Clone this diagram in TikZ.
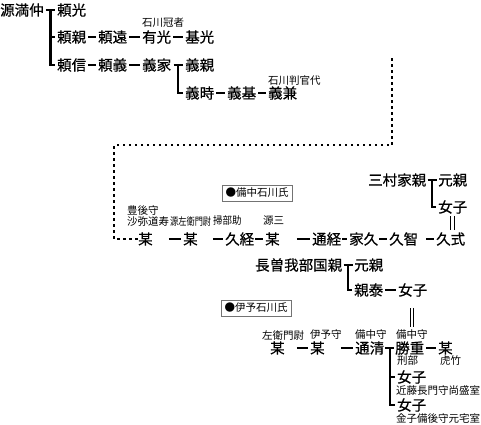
\documentclass[tikz,border=0pt]{standalone}
\usepackage{fontspec}
\newfontfamily\jp{Noto Sans CJK JP}
\newfontfamily\jpb[FakeBold=0.6]{Noto Sans CJK JP}
\usetikzlibrary{calc}

\begin{document}
\begin{tikzpicture}[x=1pt, y=-1pt,
	person/.style={inner sep=0pt, anchor=west, font=\jpb\fontsize{14.5}{14.5}\selectfont},
	note/.style={inner sep=0pt, anchor=west, align=left, font=\jp\fontsize{10.5}{10.5}\selectfont},
	clan/.style={draw=black!55, line width=0.6pt, inner sep=0pt, minimum width=70pt, minimum height=16pt, font=\jp\fontsize{10.5}{10.5}\selectfont},
	bar/.style={line width=2.4pt, shorten <=2pt, shorten >=2pt},
	tee/.style={line width=2.2pt},
	wed/.style={double, double distance=2.6pt, line width=0.7pt, shorten <=3pt, shorten >=3pt},
	dots/.style={line width=2.5pt, dash pattern=on 2.5pt off 3.5pt}]
	\useasboundingbox (0,0) rectangle (481,424);
	% Minamoto line:
	\node[person] (mitsunaka) at (0, 10){源満仲};
	\node[person] (yorimitsu) at (57, 10){頼光};
	\node[person] (yorichika) at (57, 37){頼親};
	\node[person] (yoritoo) at (98, 37){頼遠};
	\node[person] (arimitsu) at (142, 37){有光};
	\node[person] (motomitsu) at (185, 37){基光};
	\node[note] (kanja) at (142, 23){石川冠者};
	\node[person] (yorinobu) at (57, 65){頼信};
	\node[person] (yoriyoshi) at (98, 65){頼義};
	\node[person] (yoshiie) at (142, 65){義家};
	\node[person] (yoshichika) at (185, 65){義親};
	\node[person] (yoshitoki) at (185, 93){義時};
	\node[person] (yoshimoto) at (227, 93){義基};
	\node[person] (yoshikane) at (268, 93){義兼};
	\node[note] (hougandai) at (268, 81){石川判官代};
	% Bitchu Ishikawa:
	\node[clan] (bitchu) at (257, 193){●備中石川氏};
	\node[person] (bo1) at (138, 239){某};
	\node[person] (bo2) at (183, 239){某};
	\node[person] (hisatsune) at (225, 239){久経};
	\node[person] (bo3) at (265, 239){某};
	\node[person] (michitsune) at (312, 239){通経};
	\node[person] (iehisa) at (349, 239){家久};
	\node[person] (hisatomo) at (389, 239){久智};
	\node[person] (hisanori) at (436, 239){久式};
	\node[note] (bungo) at (127, 216){豊後守\\沙弥道寿};
	\node[note] (sahei) at (170, 221){\scalebox{0.78}[1]{源左衛門尉}};
	\node[note] (kamon) at (213, 221){\scalebox{0.9}[1]{掃部助}};
	\node[note] (genzo) at (263, 221){源三};
	\node[person] (mimura) at (368, 180){三村家親};
	\node[person] (motochikaA) at (438, 180){元親};
	\node[person] (nyoshiA) at (438, 207){女子};
	% Chosokabe and Iyo Ishikawa:
	\node[person] (kunichika) at (255, 265){長曽我部国親};
	\node[person] (motochikaB) at (354, 265){元親};
	\node[person] (chikayasu) at (354, 290){親泰};
	\node[person] (nyoshiB) at (398, 290){女子};
	\node[clan] (iyo) at (256, 308){●伊予石川氏};
	\node[person] (bo4) at (270, 348){某};
	\node[person] (bo5) at (310, 348){某};
	\node[person] (michikiyo) at (355, 348){通清};
	\node[person] (katsushige) at (395, 348){勝重};
	\node[person] (bo6) at (438, 348){某};
	\node[note] (saemon) at (262, 335){左衛門尉};
	\node[note] (iyonokami) at (310, 335){伊予守};
	\node[note] (bitchuA) at (355, 335){備中守};
	\node[note] (bitchuB) at (396, 335){備中守};
	\node[note] (gyoubu) at (397, 361){刑部};
	\node[note] (torataka) at (440, 361){虎竹};
	\node[person] (nyoshiC) at (397, 377){女子};
	\node[note] (kondo) at (396, 391){近藤長門守尚盛室};
	\node[person] (nyoshiD) at (397, 405){女子};
	\node[note] (kaneko) at (396, 419){金子備後守元宅室};
	% Dashes:
	\draw[bar] (yorichika) -- (yoritoo);
	\draw[bar] (yoritoo) -- (arimitsu);
	\draw[bar] (arimitsu) -- (motomitsu);
	\draw[bar] (yorinobu) -- (yoriyoshi);
	\draw[bar] (yoriyoshi) -- (yoshiie);
	\draw[bar] (yoshitoki) -- (yoshimoto);
	\draw[bar] (yoshimoto) -- (yoshikane);
	\draw[bar, shorten <=16pt] (bo1) -- (bo2);
	\draw[bar, shorten <=15pt] (bo2) -- (hisatsune);
	\draw[bar, shorten <=1pt] (hisatsune) -- (bo3);
	\draw[bar, shorten <=17pt] (bo3) -- (michitsune);
	\draw[bar, shorten <=1pt] (michitsune) -- (iehisa);
	\draw[bar, shorten <=1pt] (iehisa) -- (hisatomo);
	\draw[bar, shorten <=8pt] (hisatomo) -- (hisanori);
	\draw[bar] (chikayasu) -- (nyoshiB);
	\draw[bar, shorten <=12pt] (bo4) -- (bo5);
	\draw[bar, shorten <=16pt] (bo5) -- (michikiyo);
	\draw[bar] (katsushige) -- (bo6);
	% Branches:
	\coordinate (t1) at ($(mitsunaka.east)!.5!(yorimitsu.west)$);
	\draw[tee] ([xshift=-4.5pt]t1) -- ([xshift=4.5pt]t1);
	\draw[tee] (t1) |- ([xshift=-2pt]yorinobu.west);
	\draw[tee] (t1 |- yorichika.west) -- ([xshift=-2pt]yorichika.west);
	\coordinate (t2) at ($(yoshiie.east)!.5!(yoshichika.west)$);
	\draw[tee] ([xshift=-4.5pt]t2) -- ([xshift=4.5pt]t2);
	\draw[tee] (t2) |- ([xshift=-2pt]yoshitoki.west);
	\coordinate (t3) at ($(mimura.east)!.5!(motochikaA.west)$);
	\draw[tee] ([xshift=-4.5pt]t3) -- ([xshift=4.5pt]t3);
	\draw[tee] (t3) |- ([xshift=-2pt]nyoshiA.west);
	\coordinate (t4) at ($(kunichika.east)!.5!(motochikaB.west)$);
	\draw[tee] ([xshift=-4.5pt]t4) -- ([xshift=4.5pt]t4);
	\draw[tee] (t4) |- ([xshift=-2pt]chikayasu.west);
	\coordinate (t5) at ($(michikiyo.east)!.5!(katsushige.west)$);
	\draw[tee] ([xshift=-4.5pt]t5) -- ([xshift=4.5pt]t5);
	\draw[tee] (t5) |- ([xshift=-2pt]nyoshiD.west);
	\draw[tee] (t5 |- nyoshiC.west) -- ([xshift=-2pt]nyoshiC.west);
	% Marriages:
	\draw[wed, double distance=3pt, line width=0.8pt, shorten <=2pt, shorten >=2pt] (nyoshiA.south) -- (nyoshiA.south |- hisanori.north);
	\draw[wed, shorten <=11pt] (nyoshiB.south -| bitchuB.north) -- (bitchuB.north);
	% Continuation:
	\coordinate (d1) at (392, 58);
	\draw[dots] (d1) -- (392, 145) -- (114, 145) |- (bo1.west);
\end{tikzpicture}
\end{document}
